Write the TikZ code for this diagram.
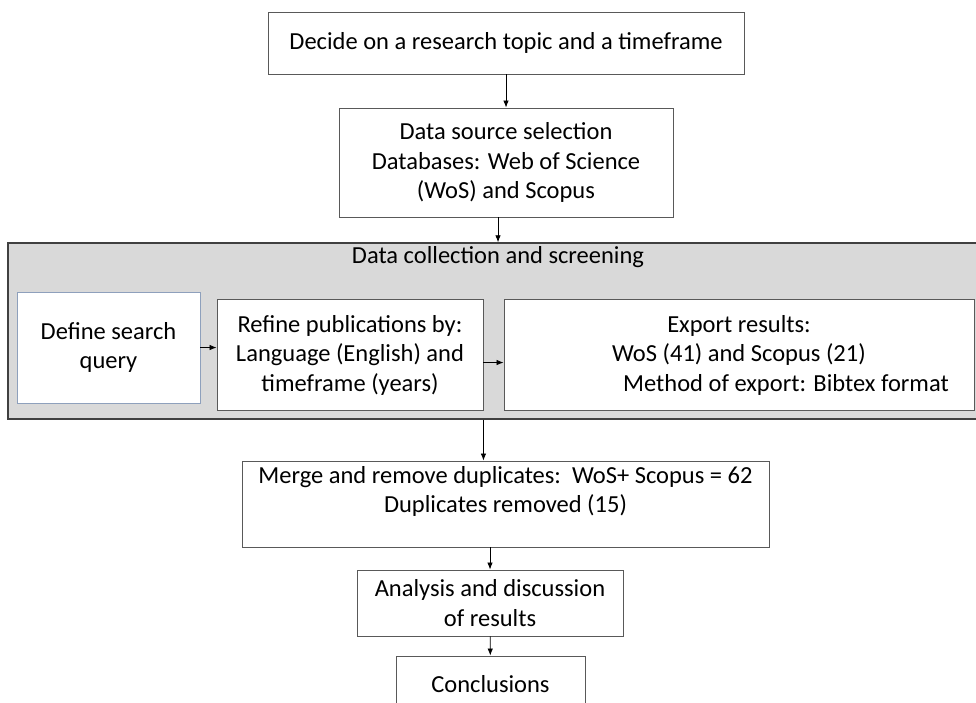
\documentclass[tikz,border=0pt]{standalone}
\usepackage{fontspec}
\setmainfont{Carlito}
\usetikzlibrary{arrows.meta}

\definecolor{panelgray}{HTML}{D9D9D9}
\definecolor{edgegray}{HTML}{595959}
\definecolor{bluegray}{HTML}{8EA0BC}

\begin{document}
\begin{tikzpicture}
  [x=1pt,y=-1pt,
   every node/.style={font=\fontsize{24.5}{29.5}\selectfont,align=center,inner sep=0pt},
   box/.style={draw=edgegray,line width=0.9pt,fill=white,rectangle},
   arr/.style={-{Latex[length=7pt,width=5.5pt]},line width=0.8pt}]
  \clip (0,0) rectangle (976,702);
  \useasboundingbox (0,0) rectangle (976,702);

  \node[draw=black!75,line width=1.4pt,fill=panelgray,minimum width=980pt,minimum height=176pt] (panel) at (498,331) {};
  \node (ptitle) at (498,257) {Data collection and screening};

  \node[box,minimum width=476pt,minimum height=62pt] (topic) at (506,43) {Decide on a research topic and a timeframe};
  \node[box,minimum width=334pt,minimum height=109pt] (source) at (506,162.5)
    {Data source selection\\Databases: Web of Science\\(WoS) and Scopus};
  \node[box,draw=bluegray,minimum width=183pt,minimum height=111pt] (define) at (108.5,347.5) {Define search\\query};
  \node[box,minimum width=266pt,minimum height=111pt] (refine) at (350,355)
    {Refine publications by:\\Language (English) and\\timeframe (years)};
  \node[box,minimum width=470pt,minimum height=111pt] (export) at (739,355)
    {Export results:\\WoS (41) and Scopus (21)\\\hspace*{94pt}Method of export: Bibtex format};
  \node[box,minimum width=527pt,minimum height=86pt] (merge) at (505.5,504)
    {Merge and remove duplicates:\ \ WoS+ Scopus = 62\\Duplicates removed (15)\\\mbox{}};
  \node[box,minimum width=266pt,minimum height=66pt] (analysis) at (490,603) {Analysis and discussion\\of results};
  \node[box,minimum width=189pt,minimum height=80pt] (concl) at (490.5,696) {\raisebox{25pt}{Conclusions}};

  \draw[arr] (topic) -- (source);
  \draw[arr] (source.south -| panel.north) -- (panel.north);
  \draw[arr] (define.east) -- (define.east -| refine.west);
  \draw[arr] ([yshift=-7.5pt]refine.east) -- ([yshift=-7.5pt]refine.east -| export.west);
  \draw[arr] (panel.south -| refine.east) -- (merge.north -| refine.east);
  \draw[arr] (merge.south -| analysis.north) -- (analysis.north);
  \draw[arr] (analysis) -- (concl);

\end{tikzpicture}
\end{document}
